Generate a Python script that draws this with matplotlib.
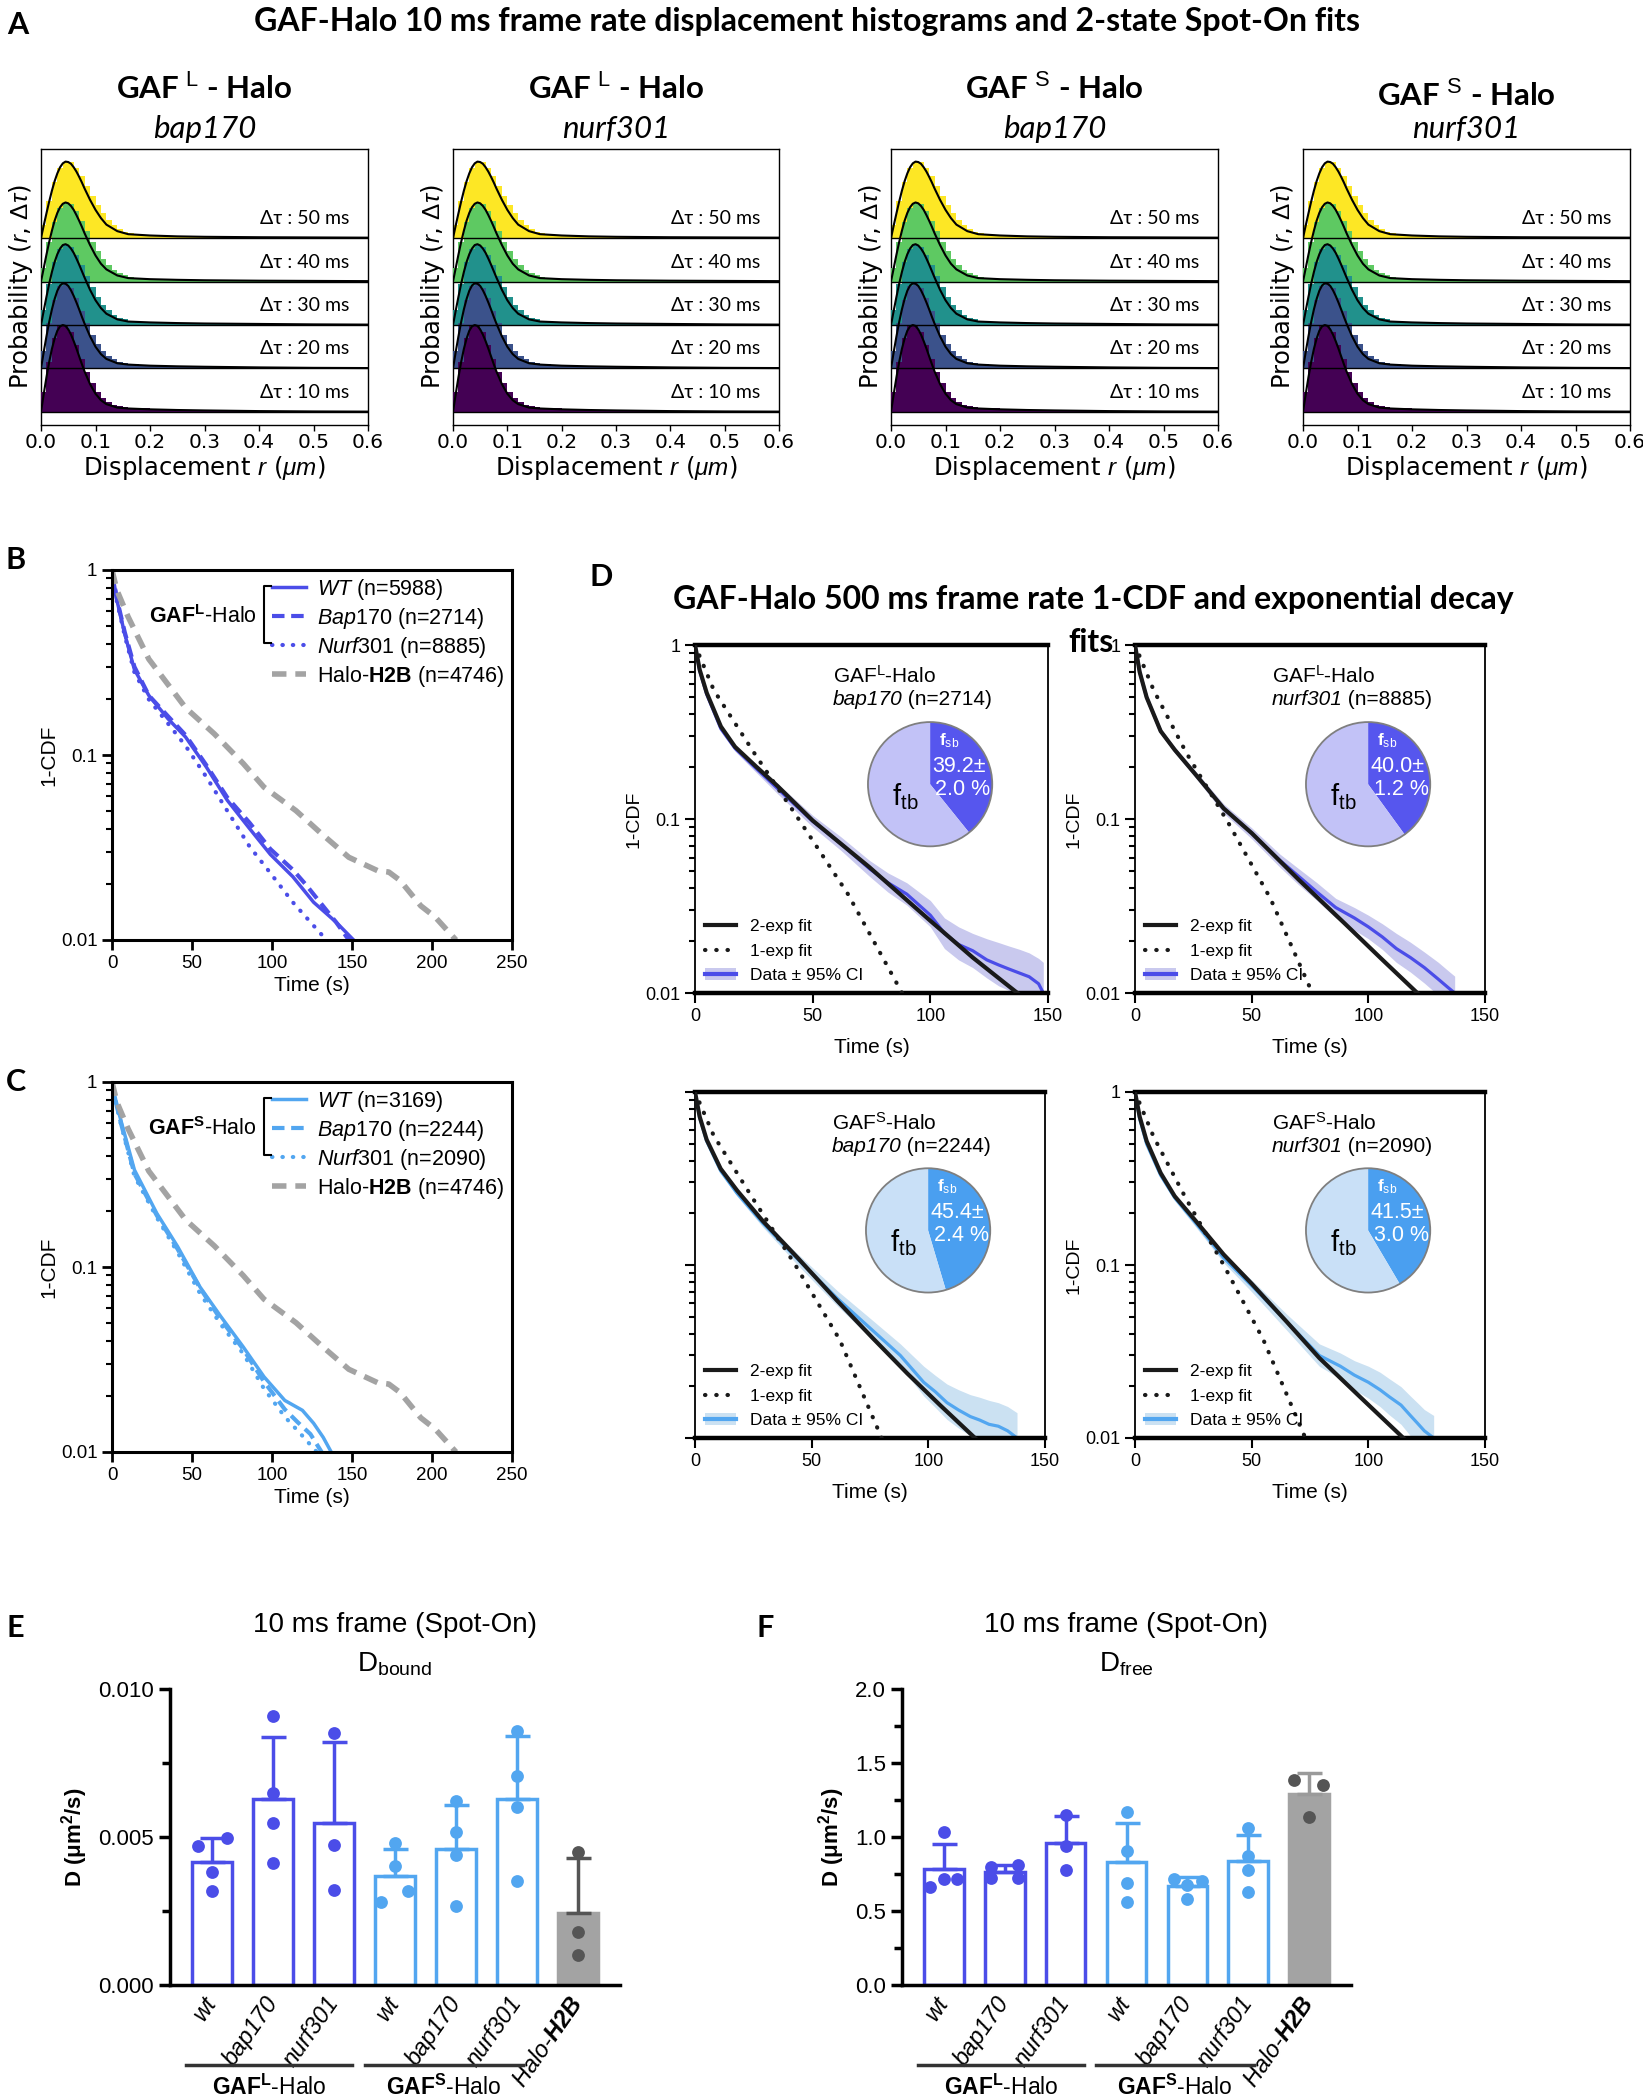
#!/usr/bin/env python3
"""GAF-Halo single-molecule tracking summary figure (panels A-F)."""

import matplotlib
matplotlib.use("Agg")
import matplotlib.pyplot as plt
import numpy as np
from matplotlib import transforms
from matplotlib.lines import Line2D
from matplotlib.patches import Circle, Patch

plt.rcParams["font.family"] = ["Liberation Sans", "DejaVu Sans"]
plt.rcParams["mathtext.fontset"] = "custom"
plt.rcParams["mathtext.rm"] = "Liberation Sans"
plt.rcParams["mathtext.it"] = "Liberation Sans:italic"
plt.rcParams["mathtext.bf"] = "Liberation Sans:bold"
HAS_BFIT = "mathtext.bfit" in plt.rcParams
if HAS_BFIT:
    plt.rcParams["mathtext.bfit"] = "Liberation Sans:bold:italic"

W, H = 1643, 2100
CALIBRI = ["Lato", "DejaVu Sans"]
DEJAVU = ["DejaVu Sans"]

# =========================================================
# Data
# =========================================================

# --- A: displacement histograms (same shapes for all 4 constructs) ---
DT_MS = [10, 20, 30, 40, 50]
A_CONSTRUCT = ["L", "L", "S", "S"]
A_MUTANT = ["bap170", "nurf301", "bap170", "nurf301"]

R_FIT = [0, .005, .01, .015, .02, .025, .03, .035, .04, .045, .05, .055, .06, .065,
         .07, .075, .08, .09, .10, .11, .12, .14, .16, .20, .25, .30, .40, .50, .60]
FIT_10 = [0, .41, .80, 1.15, 1.45, 1.69, 1.87, 1.97, 2.00, 1.98, 1.90, 1.78, 1.63, 1.46,
          1.28, 1.10, .93, .64, .42, .27, .18, .10, .08, .06, .045, .035, .02, .012, .008]
FIT_20 = [0, .38, .74, 1.07, 1.36, 1.60, 1.79, 1.91, 1.96, 1.95, 1.90, 1.80, 1.67, 1.52,
          1.36, 1.19, 1.03, .74, .50, .33, .22, .12, .09, .065, .05, .04, .025, .015, .01]
FIT_30 = [0, .33, .65, .95, 1.22, 1.45, 1.63, 1.76, 1.84, 1.86, 1.83, 1.76, 1.66, 1.53,
          1.39, 1.24, 1.09, .81, .57, .39, .26, .13, .08, .06, .045, .035, .025, .015, .01]
FIT_40 = [0, .31, .62, .91, 1.17, 1.40, 1.58, 1.71, 1.79, 1.82, 1.80, 1.74, 1.65, 1.53,
          1.40, 1.26, 1.11, .84, .60, .41, .28, .14, .08, .055, .04, .03, .02, .015, .01]
FIT_50 = [0, .29, .57, .84, 1.09, 1.31, 1.49, 1.63, 1.72, 1.76, 1.75, 1.71, 1.63, 1.53,
          1.41, 1.28, 1.14, .88, .65, .46, .31, .16, .09, .06, .04, .03, .02, .015, .01]

HIST_10 = [.45, 1.15, 1.70, 1.97, 2.00, 1.85, 1.55, 1.22, .92, .66,
           .46, .32, .23, .17, .14, .12, .10, .09, .085, .08,
           .075, .07, .065, .06, .06, .055, .05, .05, .045, .04,
           .035, .03, .025, .02, .015, .012]
HIST_20 = [.40, 1.05, 1.58, 1.90, 1.96, 1.86, 1.62, 1.33, 1.04, .78,
           .56, .40, .29, .21, .16, .13, .11, .10, .09, .085,
           .08, .075, .07, .065, .06, .055, .05, .05, .045, .04,
           .035, .03, .025, .02, .015, .01]
HIST_30 = [.35, .95, 1.45, 1.76, 1.85, 1.80, 1.62, 1.38, 1.12, .87,
           .65, .47, .34, .24, .17, .13, .10, .085, .07, .06,
           .055, .05, .045, .04, .04, .035, .035, .03, .03, .03,
           .025, .02, .018, .015, .012, .01]
HIST_40 = [.32, .90, 1.38, 1.70, 1.80, 1.78, 1.62, 1.40, 1.16, .92,
           .70, .52, .38, .27, .19, .14, .10, .08, .065, .055,
           .05, .045, .04, .035, .035, .03, .03, .03, .025, .025,
           .02, .018, .015, .012, .01, .01]
HIST_50 = [.30, .85, 1.30, 1.62, 1.74, 1.74, 1.62, 1.43, 1.20, .97,
           .76, .57, .42, .30, .21, .15, .11, .085, .07, .06,
           .05, .045, .04, .035, .035, .03, .03, .025, .025, .025,
           .02, .018, .015, .012, .01, .01]
BIN_EDGES = np.r_[np.linspace(0, 0.30, 31), [0.35, 0.40, 0.45, 0.50, 0.55, 0.60]]

# --- B / C: 1-CDF survival curves ---
WT_L_T = [0, 3, 8, 14, 23, 35, 46, 59, 72, 86, 99, 113, 126, 140, 151]
WT_L_V = [1, .69, .45, .29, .21, .157, .125, .086, .057, .040, .029, .022, .016, .0125, .01]
BAP_L_T = [0, 3, 8, 14, 23, 35, 46, 59, 72, 86, 99, 113, 121, 130, 140, 148]
BAP_L_V = [1, .70, .46, .30, .21, .162, .128, .088, .059, .043, .031, .024, .020, .016, .0125, .01]
NURF_L_T = [0, 3, 8, 14, 23, 35, 46, 59, 72, 86, 99, 113, 124, 134]
NURF_L_V = [1, .68, .44, .28, .20, .148, .112, .076, .050, .032, .023, .016, .0125, .01]

WT_S_T = [0, 3, 6, 14, 28, 41, 55, 68, 82, 95, 108, 119, 126, 132, 137]
WT_S_V = [1, .75, .60, .335, .195, .129, .078, .054, .037, .0255, .019, .0168, .0143, .012, .01]
BAP_S_T = [0, 3, 6, 14, 28, 41, 55, 68, 82, 95, 108, 116, 124, 131]
BAP_S_V = [1, .74, .58, .32, .19, .125, .077, .052, .036, .024, .017, .0145, .0125, .01]
NURF_S_T = [0, 3, 6, 14, 28, 41, 55, 68, 82, 95, 108, 118, 128]
NURF_S_V = [1, .73, .57, .31, .185, .12, .072, .049, .034, .022, .0155, .0125, .01]

H2B_T = [0, 3, 10, 23, 46, 64, 82, 95, 115, 131, 148, 166, 173, 180, 193, 202, 215]
H2B_V = [1, .78, .56, .33, .18, .13, .09, .067, .050, .0375, .028, .0237, .0233, .021, .0153, .0133, .01]

N_L = [5988, 2714, 8885]
N_S = [3169, 2244, 2090]
N_H2B = 4746

# --- D: 500 ms 1-CDF with 1- and 2-exponential fits ---
D1_FIT2_T = [0, 2, 5, 11, 17, 26, 35, 50, 74, 100, 118, 137]
D1_FIT2_V = [1, .72, .53, .34, .26, .20, .155, .098, .053, .026, .016, .01]
D1_FIT1_T = [0, 8, 26, 44, 65, 88]
D1_FIT1_V = [1, .55, .23, .10, .037, .01]
D1_DATA_T = [0, 2, 5, 11, 17, 26, 35, 50, 62, 74, 82, 90, 100, 106, 112, 118, 124, 129, 133, 138, 142, 146, 148]
D1_DATA_V = [1, .71, .52, .33, .255, .195, .15, .097, .072, .052, .043, .037, .028, .022, .019, .0175,
             .0155, .0145, .0138, .013, .0124, .0113, .01]
D1_LO = [1, .70, .51, .32, .245, .185, .14, .090, .066, .047, .038, .032, .024, .018, .0155, .014,
         .0122, .011, .0104, .0098, .0093, .0085, .0078]
D1_HI = [1, .72, .53, .34, .265, .205, .16, .105, .079, .058, .049, .043, .034, .027, .024, .022,
         .0205, .0195, .0187, .0178, .017, .0158, .015]

D2_FIT2_T = [0, 2, 5, 11, 17, 26, 38, 50, 70, 90, 105, 121]
D2_FIT2_V = [1, .70, .50, .32, .25, .18, .115, .083, .045, .025, .016, .01]
D2_FIT1_T = [0, 8, 22, 40, 58, 76]
D2_FIT1_V = [1, .55, .24, .095, .035, .01]
D2_DATA_T = [0, 2, 5, 11, 17, 26, 38, 50, 62, 70, 78, 86, 94, 100, 106, 112, 118, 124, 130, 134, 137]
D2_DATA_V = [1, .70, .50, .32, .25, .18, .115, .083, .058, .047, .038, .031, .027, .024, .021, .018,
             .016, .014, .012, .0108, .01]
D2_LO = [1, .69, .49, .31, .24, .172, .108, .077, .053, .042, .034, .027, .023, .0205, .0178, .015,
         .0132, .0114, .0097, .0087, .008]
D2_HI = [1, .71, .51, .33, .26, .188, .122, .089, .063, .052, .043, .035, .031, .028, .025, .022,
         .0196, .0172, .015, .0135, .0125]

D3_FIT2_T = [0, 2, 5, 11, 18, 29, 44, 61, 76, 91, 105, 120]
D3_FIT2_V = [1, .72, .53, .36, .27, .18, .11, .062, .038, .0236, .0155, .01]
D3_FIT1_T = [0, 8, 25, 43, 62, 80]
D3_FIT1_V = [1, .56, .24, .10, .037, .01]
D3_DATA_T = [0, 2, 5, 11, 18, 29, 44, 61, 76, 88, 98, 103, 108, 113, 118, 122, 126, 130, 134, 138]
D3_DATA_V = [1, .71, .52, .35, .26, .175, .108, .064, .042, .030, .021, .0185, .016, .0145, .0133,
             .0127, .012, .0117, .011, .01]
D3_LO = [1, .70, .51, .34, .25, .166, .10, .058, .037, .026, .0175, .015, .0128, .0114, .0103, .0096,
         .009, .0086, .008, .0072]
D3_HI = [1, .72, .53, .36, .27, .184, .116, .071, .048, .035, .026, .023, .0205, .019, .0178, .0172,
         .0165, .016, .0152, .014]

D4_FIT2_T = [0, 2, 5, 11, 17, 26, 38, 50, 65, 79, 97, 115]
D4_FIT2_V = [1, .72, .52, .34, .25, .18, .115, .078, .047, .029, .017, .01]
D4_FIT1_T = [0, 8, 22, 38, 55, 73]
D4_FIT1_V = [1, .55, .24, .10, .037, .01]
D4_DATA_T = [0, 2, 5, 11, 17, 26, 38, 50, 65, 79, 88, 94, 100, 105, 109, 114, 118, 121, 124, 128]
D4_DATA_V = [1, .70, .50, .33, .245, .175, .11, .076, .047, .030, .026, .0231, .021, .019, .0173,
             .0155, .0135, .0122, .011, .01]
D4_LO = [1, .69, .49, .32, .235, .166, .103, .070, .042, .026, .022, .019, .017, .0152, .0136,
         .012, .0103, .0092, .0082, .0074]
D4_HI = [1, .71, .51, .34, .255, .184, .117, .082, .052, .035, .031, .028, .026, .024, .022,
         .0198, .0175, .016, .0146, .0135]

FSB = [39.2, 40.0, 45.4, 41.5]
FSB_ERR = [2.0, 1.2, 2.4, 3.0]

# --- E / F: Spot-On diffusion coefficients (4 or 3 replicates per condition) ---
BAR_LABELS = ["wt", "bap170", "nurf301", "wt", "bap170", "nurf301", "Halo-H2B"]
D_BOUND = [
    [.00468, .00495, .00383, .00316],
    [.00908, .00648, .00547, .00411],
    [.00851, .00473, .00321],
    [.00479, .00402, .00316, .00282],
    [.0062, .00516, .0044, .00267],
    [.00857, .00705, .00603, .00352],
    [.00451, .0018, .00101],
]
D_FREE = [
    [1.033, .664, .713, .713],
    [.80, .814, .724, .724],
    [1.152, .938, .78],
    [1.168, .904, .69, .56],
    [.713, .702, .679, .578],
    [1.062, .871, .78, .628],
    [1.388, 1.354, 1.134],
]

# =========================================================
# Style / layout
# =========================================================
VIRIDIS5 = ["#440154", "#3b528b", "#21918c", "#5ec962", "#fde725"]
BLUE_L = "#4b4de8"
BLUE_S = "#52a6f0"
GRAY_H2B = "#a3a3a3"
PIE_L = ("#5656ee", "#c2c2f7")
PIE_S = ("#4a9ff0", "#c9e0f7")
BAND_L = "#c9c9ee"
BAND_S = "#cbe1f2"

fig = plt.figure(figsize=(W / 100, H / 100), dpi=100)


def add_ax(left, top, right, bottom):
    return fig.add_axes([left / W, 1 - bottom / H, (right - left) / W, (bottom - top) / H])


def ftext(x, y, s, **kw):
    kw.setdefault("ha", "center")
    kw.setdefault("va", "center")
    return fig.text(x / W, 1 - y / H, s, **kw)


def fline(xs, ys, **kw):
    fig.add_artist(Line2D(np.asarray(xs) / W, 1 - np.asarray(ys) / H, **kw))


def panel_letter(x, y, s):
    ftext(x, y, s, fontsize=22, fontweight="bold", family=CALIBRI)


# =========================================================
# A. displacement histograms
# =========================================================
panel_letter(18, 25, "A")
ftext(807, 22, "GAF-Halo 10 ms frame rate displacement histograms and 2-state Spot-On fits",
      fontsize=23, fontweight="bold", family=CALIBRI)

FIT_ROWS = [FIT_10, FIT_20, FIT_30, FIT_40, FIT_50]
HIST_ROWS = [HIST_10, HIST_20, HIST_30, HIST_40, HIST_50]
A_BOXES = [(41, 149, 368, 425), (453, 149, 779, 425), (891, 149, 1218, 425), (1303, 149, 1630, 425)]
A_SUB_Y = [88, 88, 88, 95]

for k, box in enumerate(A_BOXES):
    ax = add_ax(*box)
    for i, dt in enumerate(DT_MS):
        z = 10 - 2 * i  # lower rows are drawn on top of the ones above
        ax.stairs(i + np.asarray(HIST_ROWS[i]), BIN_EDGES, baseline=i, fill=True,
                  color=VIRIDIS5[i], lw=0, zorder=z)
        ax.plot(R_FIT, i + np.asarray(FIT_ROWS[i]), color="black", lw=1.5, zorder=z + 1)
        ax.axhline(i, color="black", lw=1.0, zorder=30)
        ax.text(0.565, i + 0.45, f"Δτ : {dt} ms", ha="right", va="center", fontsize=14,
                family=CALIBRI, zorder=31)
    ax.set_xlim(0, 0.6)
    ax.set_ylim(-0.3, 6.05)
    ax.set_yticks([])
    ax.set_xticks(np.round(np.arange(0, 0.61, 0.1), 1))
    ax.set_xticklabels([f"{v:.1f}" for v in np.arange(0, 0.61, 0.1)], family=DEJAVU)
    ax.tick_params(axis="x", labelsize=14.5, length=4, width=1, pad=2)
    for sp in ax.spines.values():
        sp.set_linewidth(1)
    ax.set_xlabel(r"Displacement $r$ ($\mu m$)", fontsize=17.5, family=DEJAVU, labelpad=1)
    ax.set_ylabel(r"Probability ($r$, $\Delta\tau$)", fontsize=17.5, family=DEJAVU, labelpad=4)
    cx = (box[0] + box[2]) / 2
    ftext(cx, A_SUB_Y[k], rf"GAF $^{{\rm {A_CONSTRUCT[k]}}}$ - Halo", fontsize=22.5,
          fontweight="bold", family=CALIBRI)
    ftext(cx, 129, A_MUTANT[k], fontsize=22.5, style="italic", family=CALIBRI)


# =========================================================
# B / C. 1-CDF survival curves
# =========================================================
def cdf_panel(box, color, curves, counts, construct, top):
    ax = add_ax(*box)
    styles = [dict(ls="-", lw=2.5),
              dict(ls=(0, (3.0, 1.6)), lw=3),
              dict(ls=(0, (0.1, 2.4)), lw=3, dash_capstyle="round")]
    handles = []
    for (t, v), st in zip(curves, styles):
        handles.append(ax.plot(t, v, color=color, **st)[0])
    handles.append(ax.plot(H2B_T, H2B_V, color=GRAY_H2B, ls=(0, (2.6, 1.6)), lw=4)[0])
    ax.set_yscale("log")
    ax.set_xlim(0, 250)
    ax.set_ylim(0.01, 1)
    ax.set_xticks([0, 50, 100, 150, 200, 250])
    ax.set_yticks([0.01, 0.1, 1], ["0.01", "0.1", "1"])
    ax.tick_params(which="major", length=7, width=2, labelsize=13.5)
    ax.tick_params(which="minor", length=4, width=1.5)
    ax.tick_params(axis="x", which="minor", length=0)
    for sp in ax.spines.values():
        sp.set_linewidth(2.2)
    ax.set_xlabel("Time (s)", fontsize=15, labelpad=3)
    ax.set_ylabel("1-CDF", fontsize=15, labelpad=2)
    labels = [rf"$\it{{WT}}$ (n={counts[0]})", rf"$\it{{Bap170}}$ (n={counts[1]})",
              rf"$\it{{Nurf301}}$ (n={counts[2]})", rf"Halo-$\mathbf{{H2B}}$ (n={N_H2B})"]
    ax.legend(handles, labels, loc="upper left", bbox_to_anchor=(272 / W, 1 - (top + 7) / H),
              bbox_transform=fig.transFigure, frameon=False, fontsize=15.5, handlelength=1.6,
              handletextpad=0.5, labelspacing=0.18, borderpad=0, borderaxespad=0)
    fline([271, 264, 264, 271], [top + 16, top + 16, top + 73, top + 73], color="black", lw=1.5)
    ftext(257, top + 47, rf"$\mathbf{{GAF^{construct}}}$-Halo", ha="right", fontsize=15.5)
    return ax


panel_letter(16, 560, "B")
cdf_panel((112, 570, 512, 940), BLUE_L,
          [(WT_L_T, WT_L_V), (BAP_L_T, BAP_L_V), (NURF_L_T, NURF_L_V)], N_L, "L", 570)
panel_letter(16, 1082, "C")
cdf_panel((112, 1082, 512, 1452), BLUE_S,
          [(WT_S_T, WT_S_V), (BAP_S_T, BAP_S_V), (NURF_S_T, NURF_S_V)], N_S, "S", 1082)


# =========================================================
# D. 500 ms 1-CDF + exponential fits + pie charts
# =========================================================
def d_panel(box, fit2, fit1, data, lo, hi, color, band, pie_cols, k, construct, mutant, n,
            ylabels=True):
    ax = add_ax(*box)
    ax.fill_between(data[0], lo, hi, color=band, lw=0, zorder=1)
    ax.plot(*data, color=color, lw=2.3, zorder=2)
    ax.plot(*fit2, color="#1a1a1a", lw=3, zorder=3)
    ax.plot(*fit1, color="#1a1a1a", lw=3, ls=(0, (0.1, 2.6)), dash_capstyle="round", zorder=3)
    ax.set_yscale("log")
    ax.set_xlim(0, 150)
    ax.set_ylim(0.01, 1)
    ax.set_xticks([0, 50, 100, 150])
    ax.set_yticks([0.01, 0.1, 1], ["0.01", "0.1", "1"] if ylabels else ["", "", ""])
    ax.tick_params(which="major", length=7, width=1.5, labelsize=13)
    ax.tick_params(which="minor", length=4, width=1.5)
    ax.tick_params(axis="x", which="minor", length=0)
    ax.spines["top"].set_linewidth(3.2)
    ax.spines["bottom"].set_linewidth(3.2)
    ax.spines["left"].set_linewidth(1.3)
    ax.spines["right"].set_linewidth(1.3)
    ax.set_xlabel("Time (s)", fontsize=15, labelpad=10)
    if ylabels:
        ax.set_ylabel("1-CDF", fontsize=14, labelpad=2)
    handles = [Line2D([], [], color="#1a1a1a", lw=3),
               Line2D([], [], color="#1a1a1a", lw=3, ls=(0, (0.1, 2.6)), dash_capstyle="round"),
               (Patch(color=band, lw=0), Line2D([], [], color=color, lw=3))]
    ax.legend(handles, ["2-exp fit", "1-exp fit", "Data ± 95% CI"], loc="lower left",
              frameon=False, fontsize=12.5, handlelength=1.8, handletextpad=0.8,
              labelspacing=0.55, borderaxespad=0.35, borderpad=0.2)
    ax.text(0.39, 0.91, rf"GAF$^{{\rm {construct}}}$-Halo", transform=ax.transAxes,
            fontsize=15, ha="left", va="center")
    mut = ax.text(0.39, 0.842, mutant, transform=ax.transAxes, fontsize=15, style="italic",
                  ha="left", va="center")
    ax.annotate(f" (n={n})", xy=(1, 0.5), xycoords=mut, fontsize=15, ha="left", va="center")

    # pie inset
    cx = box[0] + 0.666 * (box[2] - box[0])
    cy = box[1] + 0.40 * (box[3] - box[1])
    r = 64
    pax = fig.add_axes([(cx - r) / W, 1 - (cy + r) / H, 2 * r / W, 2 * r / H])
    pax.pie([FSB[k], 100 - FSB[k]], colors=pie_cols, startangle=90, counterclock=False,
            wedgeprops=dict(linewidth=0))
    pax.add_patch(Circle((0, 0), 1, fill=False, ec="#7f7f7f", lw=1.3))
    pax.set_xlim(-1.03, 1.03)
    pax.set_ylim(-1.03, 1.03)
    pax.text(0.30, 0.70, r"f$_{\rm sb}$", color="white", fontsize=12.5, fontweight="bold",
             ha="center", va="center")
    pax.text(0.47, 0.29, f"{FSB[k]:.1f}±", color="white", fontsize=15.5, ha="center", va="center")
    pax.text(0.53, -0.08, f"{FSB_ERR[k]:.1f} %", color="white", fontsize=15.5, ha="center",
             va="center")
    pax.text(-0.40, -0.20, r"f$_{\rm tb}$", color="black", fontsize=21, ha="center", va="center")
    return ax


panel_letter(601, 577, "D")
ftext(1093, 600, "GAF-Halo 500 ms frame rate 1-CDF and exponential decay", fontsize=23,
      fontweight="bold", family=CALIBRI)
ftext(1091, 643, "fits", fontsize=23, fontweight="bold", family=CALIBRI)

d_panel((695, 645, 1048, 993), (D1_FIT2_T, D1_FIT2_V), (D1_FIT1_T, D1_FIT1_V),
        (D1_DATA_T, D1_DATA_V), D1_LO, D1_HI, BLUE_L, BAND_L, PIE_L, 0, "L", "bap170", N_L[1])
d_panel((1135, 645, 1485, 993), (D2_FIT2_T, D2_FIT2_V), (D2_FIT1_T, D2_FIT1_V),
        (D2_DATA_T, D2_DATA_V), D2_LO, D2_HI, BLUE_L, BAND_L, PIE_L, 1, "L", "nurf301", N_L[2])
d_panel((695, 1092, 1045, 1438), (D3_FIT2_T, D3_FIT2_V), (D3_FIT1_T, D3_FIT1_V),
        (D3_DATA_T, D3_DATA_V), D3_LO, D3_HI, BLUE_S, BAND_S, PIE_S, 2, "S", "bap170", N_S[1],
        ylabels=False)
d_panel((1135, 1092, 1485, 1438), (D4_FIT2_T, D4_FIT2_V), (D4_FIT1_T, D4_FIT1_V),
        (D4_DATA_T, D4_DATA_V), D4_LO, D4_HI, BLUE_S, BAND_S, PIE_S, 3, "S", "nurf301", N_S[2])


# =========================================================
# E / F. bar charts of diffusion coefficients
# =========================================================
BAR_EDGE = [BLUE_L] * 3 + [BLUE_S] * 3 + [GRAY_H2B]
BAR_FACE = ["white"] * 6 + [GRAY_H2B]
DOT_COL = [BLUE_L] * 3 + [BLUE_S] * 3 + ["#555555"]
JIT_E = [[-0.23, 0.24, 0, 0], [0, 0, 0, 0], [0, 0, 0], [0, 0, 0.22, -0.23],
         [0, 0, 0, 0], [0, 0, 0, 0], [0, 0, 0]]
JIT_F = [[0, -0.23, 0, 0.22], [-0.22, 0.22, -0.22, 0.22], [0, 0, 0], [0, 0, 0, 0],
         [-0.22, 0.24, 0, 0], [0, 0, 0, 0], [-0.25, 0.23, 0]]


def bar_panel(box, values, jit, err_h2b, ymax, major, minor, fmt, sub):
    ax = add_ax(*box)
    for i, pts in enumerate(values):
        pts = np.asarray(pts)
        m, sd = pts.mean(), pts.std(ddof=1)
        ax.bar(i, m, width=0.65, facecolor=BAR_FACE[i], edgecolor=BAR_EDGE[i], lw=2.5, zorder=2)
        ecol = err_h2b if i == 6 else BAR_EDGE[i]
        ax.errorbar(i, m, yerr=[[0], [sd]], color=ecol, capsize=9, capthick=2.5,
                    elinewidth=2.5, zorder=3)
        ax.scatter(i + np.asarray(jit[i]), pts, s=85, color=DOT_COL[i], lw=0, zorder=4)
    ax.set_xlim(-0.69, 6.69)
    ax.set_ylim(0, ymax)
    ax.set_yticks(major, [fmt.format(v) for v in major])
    ax.set_yticks(minor, minor=True)
    ax.spines["top"].set_visible(False)
    ax.spines["right"].set_visible(False)
    ax.spines["left"].set_linewidth(2.5)
    ax.spines["bottom"].set_linewidth(2.5)
    ax.tick_params(axis="y", which="major", length=8, width=2.5, labelsize=16)
    ax.tick_params(axis="y", which="minor", length=6, width=2.5)
    h2b = r"Halo-$\mathbfit{H2B}$" if HAS_BFIT else r"Halo-$\mathbf{H2B}$"
    ax.set_xticks(range(7), BAR_LABELS[:6] + [h2b], rotation=55, ha="right", va="center",
                  rotation_mode="anchor", style="italic", fontsize=17)
    ax.tick_params(axis="x", length=0, pad=10)
    ax.set_ylabel(r"D ($\mathbf{\mu}$m$^\mathbf{2}$/s)", fontsize=16, fontweight="bold", labelpad=6)
    trans = transforms.blended_transform_factory(ax.transData, ax.transAxes)
    for x0, x1, c in [(-0.43, 2.3, "L"), (2.5, 5.1, "S")]:
        ax.plot([x0, x1], [-0.27, -0.27], color="#333333", lw=2.5, transform=trans,
                clip_on=False)
        ax.text((x0 + x1) / 2, -0.345, rf"$\mathbf{{GAF^{c}}}$-Halo", transform=trans,
                ha="center", va="center", fontsize=16.5)
    cx = (box[0] + box[2]) / 2
    ftext(cx, 1625, "10 ms frame (Spot-On)", fontsize=20)
    ftext(cx, 1664, sub, fontsize=20)
    return ax


panel_letter(15, 1628, "E")
bar_panel((170, 1689, 620, 1985), D_BOUND, JIT_E, "#555555", 0.010,
          [0, 0.005, 0.010], [0.0025, 0.0075], "{:.3f}", r"D$_{\rm bound}$")
panel_letter(765, 1628, "F")
bar_panel((902, 1689, 1351, 1985), D_FREE, JIT_F, "#9a9a9a", 2.0,
          [0, 0.5, 1.0, 1.5, 2.0], [0.25, 0.75, 1.25, 1.75], "{:.1f}", r"D$_{\rm free}$")

fig.savefig("out.png", dpi=100)
